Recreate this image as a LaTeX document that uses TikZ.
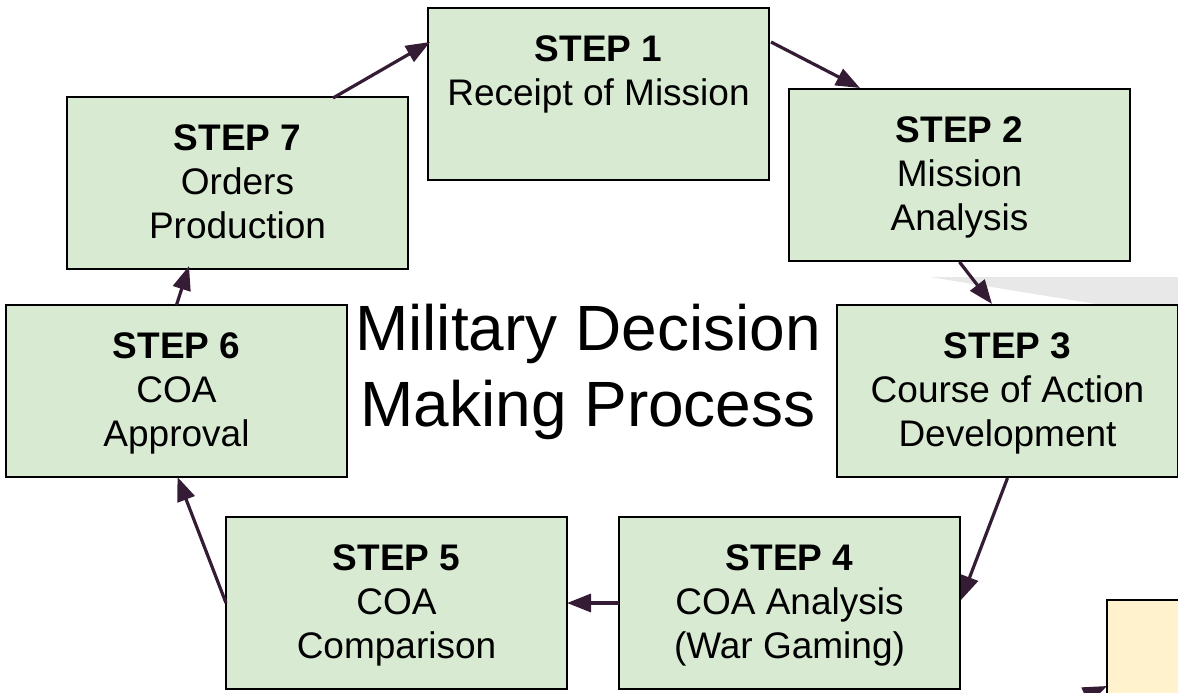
\documentclass[tikz,border=0pt]{standalone}
\usepackage{fontspec}
\setmainfont{Liberation Sans}
\usetikzlibrary{arrows.meta,calc}
\definecolor{boxgreen}{HTML}{D9EAD3}
\definecolor{noteyellow}{HTML}{FFF2CC}
\definecolor{arrowc}{HTML}{351C35}
\definecolor{shadegray}{HTML}{E8E8E8}
\tikzset{
 stepbox/.style={draw=black, line width=2pt, fill=boxgreen, minimum width=341pt, minimum height=172pt, anchor=north west, inner sep=0pt, outer sep=0pt},
 steptext/.style={anchor=north, align=center, inner sep=0pt, font=\fontsize{37}{44}\selectfont},
 flow/.style={draw=arrowc, line width=3.2pt, -{Triangle[length=24pt,width=18pt]}},
}
\begin{document}
\begin{tikzpicture}[x=1pt,y=-1pt]
\useasboundingbox (0,0) rectangle (1178,693);
\clip (0,0) rectangle (1178,693);
% gray shading
\fill[shadegray] (930,277) -- (1190,277) -- (1190,310) -- (1133,310) -- cycle;
% boxes
\node[stepbox] (s1) at (428,8) {};
\node[stepbox] (s2) at (789,89) {};
\node[stepbox] (s3) at (837,305) {};
\node[stepbox] (s4) at (619,517) {};
\node[stepbox] (s5) at (226,517) {};
\node[stepbox] (s6) at (6,305) {};
\node[stepbox] (s7) at (67,97) {};
\node[draw=black, line width=2pt, fill=noteyellow, anchor=north west, minimum width=200pt, minimum height=150pt, outer sep=0pt] (note) at (1107,600) {};
% texts
\node[steptext] (t1) at ($(s1.north)+(0,27)$) {\textbf{STEP 1}\\Receipt of Mission};
\node[steptext] (t2) at ($(s2.north)+(0,27)$) {\textbf{STEP 2}\\Mission\\Analysis};
\node[steptext] (t3) at ($(s3.north)+(0,27)$) {\textbf{STEP 3}\\Course of Action\\Development};
\node[steptext] (t4) at ($(s4.north)+(0,27)$) {\textbf{STEP 4}\\COA Analysis\\(War Gaming)};
\node[steptext] (t5) at ($(s5.north)+(0,27)$) {\textbf{STEP 5}\\COA\\Comparison};
\node[steptext] (t6) at ($(s6.north)+(0,27)$) {\textbf{STEP 6}\\COA\\Approval};
\node[steptext] (t7) at ($(s7.north)+(0,27)$) {\textbf{STEP 7}\\Orders\\Production};
\node[anchor=north, align=center, inner sep=0pt, font=\fontsize{64}{76}\selectfont] (title) at (588,304) {Military Decision\\Making Process};
% connectors
\draw[flow] ($(s7.north west)+(266,1)$) -- ($(s1.north west)+(2,34)$);
\draw[flow] ($(s1.north east)+(2,34)$) -- ($(s2.north west)+(71,-1)$);
\draw[flow] ($(s2.south)+(0,1)$) -- ($(s3.north west)+(155,-1)$);
\draw[flow] ($(s3.south)+(0,1)$) -- ($(s4.north east)+(1,83)$);
\draw[flow] (s4.west) -- (s5.east);
\draw[flow] (s5.west) -- ($(s6.south)+(1,0)$);
\draw[flow] (s6.north) -- ($(s7.south west)+(122,-3)$);
\coordinate (nstart) at (1015,728);
\draw[flow] (nstart) -- ($(note.north west)+(0,86)$);
\end{tikzpicture}
\end{document}
